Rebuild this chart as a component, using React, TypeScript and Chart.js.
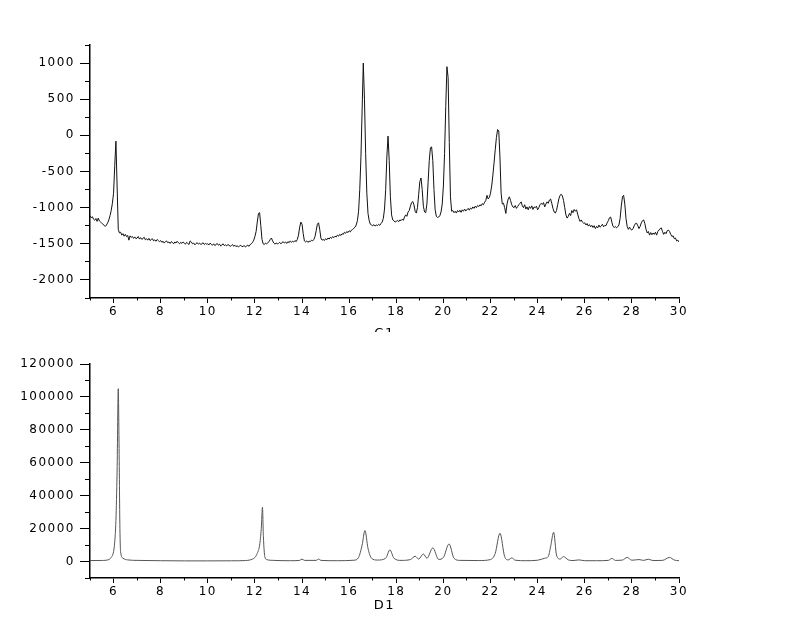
import React, { useEffect, useRef } from "react";
import { Chart, registerables } from "chart.js";

Chart.register(...registerables);

// ---------- C1 (upper pattern), sampled every 0.05 from 5.00 to 30.00 ----------
const C1_START = 5;
const C1_STEP = 0.05;
const c1Intensity: number[] = [
  // 5.00 - 5.95
  -1110, -1140, -1125, -1160, -1175, -1150, -1190, -1145, -1185, -1200, -1215, -1230, -1245, -1260, -1240, -1210, -1170, -1110, -1040, -940,
  // 6
  -800, -420, -80, -700, -1300, -1350, -1340, -1380, -1360, -1395, -1370, -1400, -1385, -1450, -1390, -1410, -1400, -1425, -1405, -1430,
  // 7
  -1420, -1400, -1435, -1415, -1440, -1425, -1410, -1445, -1430, -1450, -1425, -1455, -1440, -1430, -1460, -1445, -1465, -1440, -1455, -1470,
  // 8
  -1455, -1480, -1465, -1490, -1470, -1460, -1485, -1475, -1495, -1470, -1480, -1500, -1475, -1490, -1465, -1485, -1500, -1480, -1495, -1475,
  // 9
  -1490, -1505, -1480, -1495, -1510, -1460, -1475, -1500, -1490, -1515, -1495, -1485, -1505, -1490, -1510, -1500, -1485, -1510, -1495, -1505,
  // 10
  -1500, -1515, -1490, -1510, -1520, -1500, -1525, -1510, -1495, -1520, -1505, -1530, -1515, -1500, -1525, -1515, -1530, -1510, -1520, -1535,
  // 11
  -1525, -1510, -1535, -1520, -1540, -1525, -1545, -1530, -1520, -1540, -1535, -1525, -1545, -1530, -1520, -1535, -1510, -1500, -1480, -1450,
  // 12
  -1400, -1330, -1200, -1080, -1070, -1250, -1440, -1500, -1510, -1490, -1500, -1485, -1470, -1440, -1420, -1460, -1490, -1505, -1490, -1500,
  // 13
  -1495, -1480, -1500, -1485, -1470, -1490, -1475, -1495, -1470, -1485, -1460, -1480, -1465, -1475, -1455, -1470, -1440, -1380, -1270, -1200,
  // 14
  -1230, -1360, -1460, -1475, -1460, -1480, -1465, -1470, -1450, -1460, -1440, -1400, -1320, -1230, -1210, -1300, -1420, -1450, -1440, -1455,
  // 15
  -1430, -1445, -1420, -1435, -1410, -1425, -1400, -1415, -1395, -1405, -1380, -1395, -1370, -1385, -1360, -1370, -1340, -1355, -1330, -1345,
  // 16
  -1320, -1335, -1310, -1300, -1285, -1270, -1240, -1180, -1050, -750, -300, 350, 1000, 500, -250, -800, -1080, -1180, -1230, -1240,
  // 17
  -1250, -1235, -1255, -1240, -1250, -1230, -1245, -1220, -1200, -1150, -1020, -750, -300, -10, -350, -850, -1100, -1170, -1180, -1200,
  // 18
  -1190, -1175, -1195, -1170, -1180, -1160, -1175, -1130, -1100, -1120, -1060, -1040, -980, -930, -915, -960, -1050, -1075, -1000, -820,
  // 19
  -640, -590, -750, -980, -1060, -1070, -950, -650, -350, -170, -160, -350, -750, -1030, -1120, -1135, -1130, -1110, -1060, -950,
  // 20
  -700, -250, 400, 950, 800, -100, -850, -1050, -1040, -1070, -1050, -1075, -1040, -1060, -1035, -1065, -1030, -1050, -1020, -1045,
  // 21
  -1030, -1010, -1035, -1005, -1020, -990, -1010, -980, -1000, -970, -985, -960, -975, -945, -960, -925, -900, -830, -880, -860,
  // 22
  -800, -700, -550, -380, -200, -30, 80, 60, -300, -800, -950, -940, -1000, -1080, -950, -880, -850, -900, -960, -990,
  // 23
  -1000, -970, -1010, -985, -960, -940, -920, -975, -1000, -960, -1020, -990, -1030, -985, -1010, -975, -1025, -990, -1000, -980,
  // 24
  -1030, -1000, -960, -940, -955, -930, -990, -950, -920, -940, -895, -880, -940, -1010, -1060, -1075, -1040, -960, -880, -830,
  // 25
  -815, -840, -900, -1000, -1100, -1145, -1120, -1080, -1110, -1040, -1070, -1025, -1050, -1030, -1090, -1150, -1190, -1170, -1200, -1215,
  // 26
  -1210, -1240, -1220, -1255, -1235, -1265, -1245, -1275, -1250, -1290, -1260, -1280, -1240, -1270, -1255, -1230, -1265, -1245, -1250, -1210,
  // 27
  -1180, -1140, -1130, -1200, -1260, -1275, -1260, -1280, -1265, -1240, -1150, -980, -850, -830, -950, -1150, -1260, -1300, -1270, -1300,
  // 28
  -1310, -1290, -1250, -1220, -1215, -1250, -1290, -1260, -1210, -1180, -1170, -1220, -1300, -1350, -1330, -1380, -1345, -1375, -1350, -1370,
  // 29
  -1340, -1380, -1330, -1310, -1290, -1280, -1330, -1370, -1340, -1360, -1320, -1310, -1330, -1370, -1400, -1390, -1430, -1420, -1460, -1450,
  // 30
  -1475,
];

// ---------- D1 (lower pattern) ----------
const d1Angle: number[] = [
  5, 5.5, 5.8, 5.9, 6.0, 6.05, 6.1, 6.15, 6.2, 6.23,
  6.27, 6.3, 6.4, 6.6, 7, 8, 9, 10, 11, 11.6,
  11.9, 12.0, 12.1, 12.2, 12.27, 12.32, 12.36, 12.42, 12.5, 12.8,
  13.5, 13.9, 14.0, 14.1, 14.6, 14.7, 14.8, 15.5, 16.2, 16.4,
  16.55, 16.67, 16.8, 16.95, 17.2, 17.55, 17.73, 17.9, 18.2, 18.6,
  18.8, 18.95, 19.15, 19.3, 19.55, 19.8, 20.0, 20.24, 20.45, 20.7,
  21.5, 22.0, 22.2, 22.4, 22.6, 22.75, 22.9, 23.05, 23.5, 24.0,
  24.3, 24.45, 24.55, 24.68, 24.8, 24.95, 25.1, 25.3, 25.5, 25.75,
  26.0, 26.5, 27.0, 27.15, 27.3, 27.6, 27.8, 28.0, 28.3, 28.5,
  28.7, 28.9, 29.3, 29.6, 29.8, 30,
];
const d1Intensity: number[] = [
  600, 650, 1200, 2500, 6000, 12000, 25000, 55000, 105000, 75000,
  20000, 6000, 2000, 1000, 700, 500, 400, 400, 450, 600,
  1500, 2500, 5000, 10000, 20000, 33000, 15000, 3000, 1200, 700,
  500, 700, 1500, 700, 700, 1500, 700, 500, 800, 2500,
  10000, 18800, 8000, 2000, 900, 2000, 7100, 2000, 700, 1200,
  3200, 1500, 4600, 2000, 8300, 1300, 2500, 10700, 2000, 700,
  600, 1200, 5000, 17200, 3000, 1000, 2200, 800, 500, 800,
  2000, 3000, 9000, 17800, 4000, 1500, 3000, 1000, 600, 1000,
  500, 500, 700, 1900, 700, 900, 2500, 800, 1200, 700,
  1400, 600, 700, 2500, 900, 500,
];

// ---------- axis ticks ----------
const xMajorTicks = [6, 8, 10, 12, 14, 16, 18, 20, 22, 24, 26, 28, 30];
const xMinorTicks = [5, 7, 9, 11, 13, 15, 17, 19, 21, 23, 25, 27, 29];
const c1MajorTicks = [-2000, -1500, -1000, -500, 0, 500, 1000];
const c1MinorTicks = [-2250, -1750, -1250, -750, -250, 250, 750, 1250];
const d1MajorTicks = [0, 20000, 40000, 60000, 80000, 100000, 120000];
const d1MinorTicks = [-10000, 10000, 30000, 50000, 70000, 90000, 110000];

const FONT = { family: "'DejaVu Sans', Arial, sans-serif", size: 12 };
const TITLE_FONT = { family: "'DejaVu Sans', Arial, sans-serif", size: 13 };

// widen the text a little, as in the (horizontally stretched) reference
const wideText = {
  id: "wideText",
  beforeDraw(chart: any) {
    chart.ctx.letterSpacing = "1.5px";
  },
  afterDraw(chart: any) {
    chart.ctx.letterSpacing = "0px";
  },
};

type PanelCfg = {
  points: { x: number; y: number }[];
  lineColor: string;
  tension: number;
  yMin: number;
  yMax: number;
  yMajor: number[];
  yMinor: number[];
  title: string;
  padTop: number;
  xScaleHeight: number;
  titlePadBottom: number;
};

function buildConfig(p: PanelCfg): any {
  const setTicks = (arr: number[]) => (s: any) => {
    s.ticks = arr.map((v) => ({ value: v }));
  };
  return {
    type: "line",
    data: {
      datasets: [
        {
          data: p.points,
          borderColor: p.lineColor,
          borderWidth: 1,
          pointRadius: 0,
          tension: p.tension,
          cubicInterpolationMode: p.tension > 0 ? "monotone" : "default",
          fill: false,
          xAxisID: "x",
          yAxisID: "y",
        },
      ],
    },
    plugins: [wideText],
    options: {
      animation: false,
      responsive: false,
      maintainAspectRatio: false,
      events: [],
      layout: { padding: { top: p.padTop, right: 121, left: 0, bottom: 0 } },
      plugins: { legend: { display: false }, tooltip: { enabled: false }, title: { display: false } },
      scales: {
        x: {
          type: "linear",
          position: "bottom",
          min: 5,
          max: 30,
          afterBuildTicks: setTicks(xMajorTicks),
          afterFit: (s: any) => {
            s.height = p.xScaleHeight;
          },
          grid: { drawOnChartArea: false, drawTicks: true, tickLength: 5, tickColor: "#000", tickWidth: 1 },
          border: { display: true, color: "#000", width: 1.5 },
          ticks: {
            color: "#000",
            font: FONT,
            padding: 2,
            maxRotation: 0,
            autoSkip: false,
            callback: (v: any) => String(v),
          },
          title: {
            display: true,
            text: p.title,
            color: "#000",
            font: TITLE_FONT,
            padding: { top: 0, bottom: p.titlePadBottom },
          },
        },
        xMinor: {
          type: "linear",
          position: { y: p.yMin },
          min: 5,
          max: 30,
          afterBuildTicks: setTicks(xMinorTicks),
          grid: { drawOnChartArea: false, drawTicks: true, tickLength: 2.5, tickColor: "#000", tickWidth: 1 },
          border: { display: false },
          ticks: { display: false, autoSkip: false },
        },
        y: {
          type: "linear",
          position: "left",
          min: p.yMin,
          max: p.yMax,
          afterBuildTicks: setTicks(p.yMajor),
          afterFit: (s: any) => {
            s.width = 90;
          },
          grid: { drawOnChartArea: false, drawTicks: true, tickLength: 10, tickColor: "#000", tickWidth: 1 },
          border: { display: true, color: "#000", width: 1.5 },
          ticks: {
            color: "#000",
            font: FONT,
            padding: 5,
            autoSkip: false,
            callback: (v: any) => String(v),
          },
        },
        yMinor: {
          type: "linear",
          position: { x: 5 },
          min: p.yMin,
          max: p.yMax,
          afterBuildTicks: setTicks(p.yMinor),
          grid: { drawOnChartArea: false, drawTicks: true, tickLength: 5, tickColor: "#000", tickWidth: 1 },
          border: { display: false },
          ticks: { display: false, autoSkip: false },
        },
      },
    },
  };
}

export default function App() {
  const topRef = useRef<HTMLCanvasElement | null>(null);
  const botRef = useRef<HTMLCanvasElement | null>(null);

  useEffect(() => {
    const c1Points = c1Intensity.map((y, i) => ({ x: +(C1_START + i * C1_STEP).toFixed(2), y }));
    const d1Points = d1Angle.map((x, i) => ({ x, y: d1Intensity[i] }));

    const top = new Chart(
      topRef.current as HTMLCanvasElement,
      buildConfig({
        points: c1Points,
        lineColor: "#111",
        tension: 0,
        yMin: -2250,
        yMax: 1250,
        yMajor: c1MajorTicks,
        yMinor: c1MinorTicks,
        title: "C1",
        padTop: 45,
        xScaleHeight: 47,
        titlePadBottom: 3.5,
      })
    );
    const bottom = new Chart(
      botRef.current as HTMLCanvasElement,
      buildConfig({
        points: d1Points,
        lineColor: "#555",
        tension: 0.4,
        yMin: -10000,
        yMax: 120000,
        yMajor: d1MajorTicks,
        yMinor: d1MinorTicks,
        title: "D1",
        padTop: 32,
        xScaleHeight: 50,
        titlePadBottom: 14.7,
      })
    );
    return () => {
      top.destroy();
      bottom.destroy();
    };
  }, []);

  return (
    <div style={{ position: "absolute", left: 0, top: 0, width: 800, height: 628, background: "#fff", overflow: "hidden" }}>
      <canvas
        ref={topRef}
        width={800}
        height={345}
        style={{ position: "absolute", left: 0, top: 0, width: 800, height: 345, display: "block" }}
      />
      <canvas
        ref={botRef}
        width={800}
        height={296}
        style={{ position: "absolute", left: 0, top: 332, width: 800, height: 296, display: "block", background: "#fff" }}
      />
    </div>
  );
}
